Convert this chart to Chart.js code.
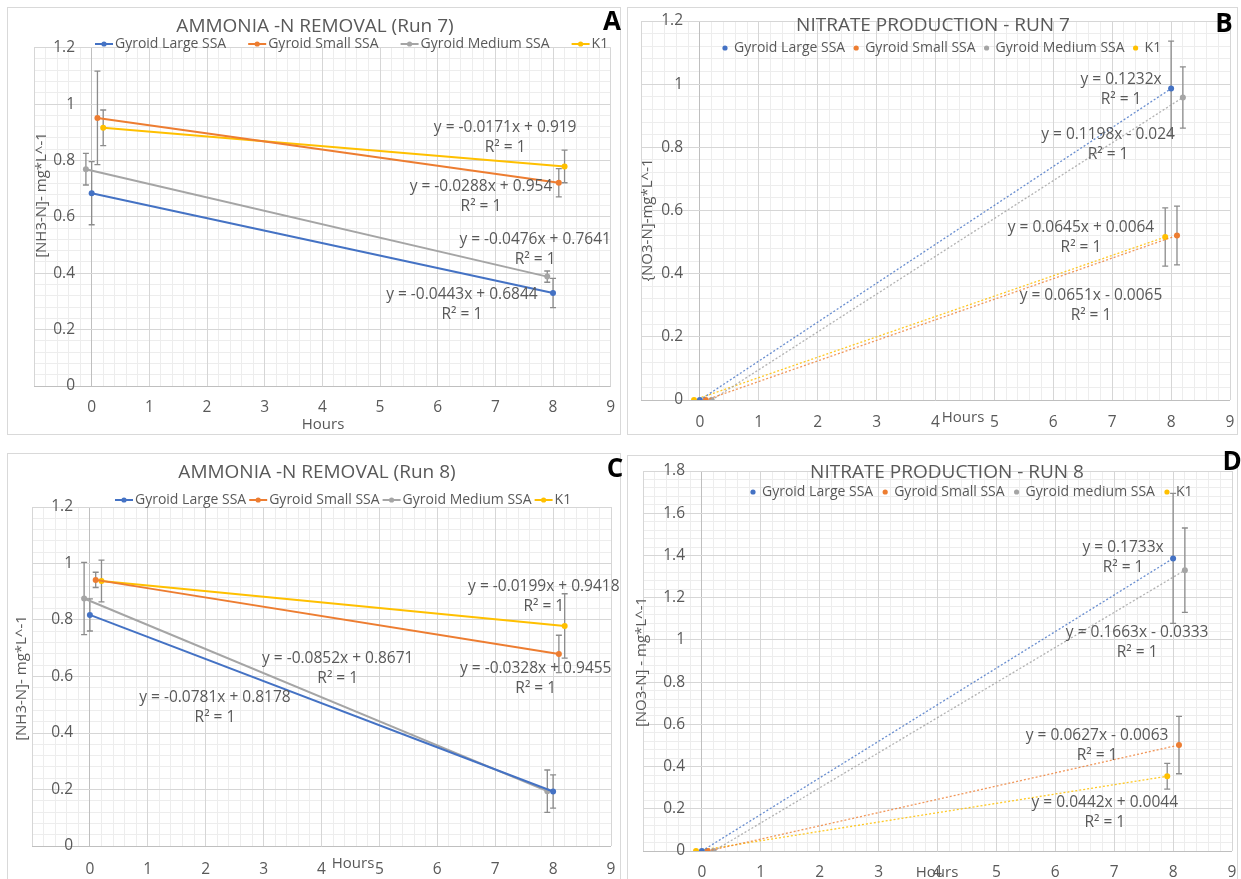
<!DOCTYPE html>
<html>
<head>
<meta charset="UTF-8">
<title>Ammonia removal and nitrate production - Run 7 / Run 8</title>
<script src="https://cdn.jsdelivr.net/npm/chart.js"></script>
<style>
    body { margin: 0; background: #fff; width: 1241px; height: 879px; overflow: hidden; position: relative; }
    .frame { position: absolute; border: 1px solid #d9d9d9; box-sizing: border-box; }
    canvas { position: absolute; }
</style>
</head>
<body>
<div class="frame" style="left:7px;top:7px;width:614px;height:428px"></div>
<div class="frame" style="left:627px;top:7px;width:611px;height:428px"></div>
<div class="frame" style="left:7px;top:453px;width:614px;height:440px"></div>
<div class="frame" style="left:627px;top:455px;width:611px;height:440px"></div>
<canvas id="chartA" width="620" height="428" style="left:7px;top:7px"></canvas>
<canvas id="chartB" width="614" height="428" style="left:627px;top:7px"></canvas>
<canvas id="chartC" width="620" height="430" style="left:7px;top:453px"></canvas>
<canvas id="chartD" width="614" height="440" style="left:627px;top:445px"></canvas>

<script>
    // series names
    var seriesLabels = ['Gyroid Large SSA', 'Gyroid Small SSA', 'Gyroid Medium SSA', 'K1'];
    var seriesLabelsRun8No3 = ['Gyroid Large SSA', 'Gyroid Small SSA', 'Gyroid medium SSA', 'K1'];

    // axis ticks
    var hourTicks = [-1, 0, 1, 2, 3, 4, 5, 6, 7, 8, 9];
    var concTicks12 = [0, 0.2, 0.4, 0.6, 0.8, 1, 1.2];
    var concTicks18 = [0, 0.2, 0.4, 0.6, 0.8, 1, 1.2, 1.4, 1.6, 1.8];

    // Run 7 - NH3-N (sampling hours are nudged so the error bars don't overlap)
    var hoursRun7Nh3 = [[0, 8], [0.1, 8.1], [-0.1, 7.9], [0.2, 8.2]];
    var nh3Run7 = [[0.684, 0.330], [0.951, 0.721], [0.769, 0.388], [0.916, 0.779]];
    var nh3Run7Err = [[0.112, 0.052], [0.166, 0.050], [0.056, 0.020], [0.063, 0.058]];
    var nh3Run7Fits = ['y = -0.0443x + 0.6844', 'y = -0.0288x + 0.954', 'y = -0.0476x + 0.7641', 'y = -0.0171x + 0.919'];

    // Run 7 - NO3-N
    var hoursRun7No3 = [[0, 8], [0.1, 8.1], [0.2, 8.2], [-0.1, 7.9]];
    var no3Run7 = [[0, 0.986], [0, 0.521], [0, 0.958], [0, 0.516]];
    var no3Run7Err = [[0, 0.150], [0, 0.093], [0, 0.097], [0, 0.092]];
    var no3Run7Fits = ['y = 0.1232x', 'y = 0.0651x - 0.0065', 'y = 0.1198x - 0.024', 'y = 0.0645x + 0.0064'];

    // Run 8 - NH3-N
    var hoursRun8Nh3 = [[0, 8], [0.1, 8.1], [-0.1, 7.9], [0.2, 8.2]];
    var nh3Run8 = [[0.818, 0.193], [0.942, 0.680], [0.876, 0.194], [0.938, 0.779]];
    var nh3Run8Err = [[0.057, 0.059], [0.027, 0.066], [0.128, 0.075], [0.074, 0.114]];
    var nh3Run8Fits = ['y = -0.0781x + 0.8178', 'y = -0.0328x + 0.9455', 'y = -0.0852x + 0.8671', 'y = -0.0199x + 0.9418'];

    // Run 8 - NO3-N
    var hoursRun8No3 = [[0, 8], [0.1, 8.1], [0.2, 8.2], [-0.1, 7.9]];
    var no3Run8 = [[0, 1.386], [0, 0.502], [0, 1.330], [0, 0.354]];
    var no3Run8Err = [[0, 0.308], [0, 0.136], [0, 0.200], [0, 0.061]];
    var no3Run8Fits = ['y = 0.1733x', 'y = 0.0627x - 0.0063', 'y = 0.1663x - 0.0333', 'y = 0.0442x + 0.0044'];

    var FONT = '"Open Sans", "Noto Sans", sans-serif';
    var TEXT = '#595959';
    var colors = ['#4472c4', '#ed7d31', '#a5a5a5', '#ffc000'];
    var dotted = ['rgba(68,114,196,0.8)', 'rgba(237,125,49,0.8)', 'rgba(165,165,165,0.85)', 'rgba(255,192,0,0.85)'];

    var panels = [
        {
            id: 'chartA', title: 'AMMONIA -N REMOVAL (Run 7)', letter: 'A', yTitle: '[NH3-N]- mg*L^-1',
            names: seriesLabels, hours: hoursRun7Nh3, values: nh3Run7, errs: nh3Run7Err, fits: nh3Run7Fits,
            yTicks: concTicks12, solid: true,
            padding: { left: 27, right: 16.3, top: 40.7, bottom: 49 },
            yLabelRight: 41, xLabelDrop: 22,
            titleAt: [308, 20], letterAt: [605, 16], yTitleAt: [34.5, 188], hoursAt: [316, 418],
            legendAt: [88, 37], legendGap: 22,
            fitAt: [[6.42, 0.326], [6.75, 0.706], [7.69, 0.518], [7.17, 0.915]]
        },
        {
            id: 'chartB', title: 'NITRATE PRODUCTION - RUN 7', letter: 'B', yTitle: '{NO3-N]-mg*L^-1',
            names: seriesLabels, hours: hoursRun7No3, values: no3Run7, errs: no3Run7Err, fits: no3Run7Fits,
            yTicks: concTicks12, solid: false,
            padding: { left: 14, right: 11, top: 14, bottom: 35 },
            yLabelRight: 42, xLabelDrop: 23,
            titleAt: [306, 19], letterAt: [597, 18], yTitleAt: [21, 213], hoursAt: [336, 411],
            legendAt: [98, 41], legendGap: 11,
            fitAt: [[7.15, 1.013], [6.64, 0.332], [6.93, 0.839], [6.47, 0.545]]
        },
        {
            id: 'chartC', title: 'AMMONIA -N REMOVAL (Run 8)', letter: 'C', yTitle: '[NH3-N]- mg*L^-1',
            names: seriesLabels, hours: hoursRun8Nh3, values: nh3Run8, errs: nh3Run8Err, fits: nh3Run8Fits,
            yTicks: concTicks12, solid: true,
            padding: { left: 25, right: 16, top: 54, bottom: 37 },
            yLabelRight: 41, xLabelDrop: 24,
            titleAt: [310, 20], letterAt: [608, 17], yTitleAt: [15, 225], hoursAt: [346, 411],
            legendAt: [108, 47], legendGap: 3,
            fitAt: [[2.16, 0.524], [7.70, 0.627], [4.28, 0.662], [7.84, 0.920]]
        },
        {
            id: 'chartD', title: 'NITRATE PRODUCTION - RUN 8', letter: 'D', yTitle: '[NO3-N] - mg*L^-1',
            names: seriesLabelsRun8No3, hours: hoursRun8No3, values: no3Run8, errs: no3Run8Err, fits: no3Run8Fits,
            yTicks: concTicks18, solid: false,
            padding: { left: 16, right: 9, top: 26, bottom: 34 },
            yLabelRight: 42, xLabelDrop: 22,
            titleAt: [320, 28], letterAt: [605, 18], yTitleAt: [15, 217], hoursAt: [310, 428],
            legendAt: [126, 47], legendGap: 12,
            fitAt: [[7.15, 1.435], [6.71, 0.545], [7.39, 1.033], [6.84, 0.227]]
        }
    ];

    // vertical error bars, drawn under the markers
    var errorBars = {
        id: 'errorBars',
        beforeDatasetsDraw: function (chart) {
            var ctx = chart.ctx, xs = chart.scales.x, ys = chart.scales.y;
            ctx.save();
            ctx.strokeStyle = '#8c8c8c';
            ctx.lineWidth = 1.3;
            chart.data.datasets.forEach(function (ds) {
                ds.data.forEach(function (p, j) {
                    var e = ds.errors[j];
                    if (!e) return;
                    var px = xs.getPixelForValue(p.x);
                    var top = ys.getPixelForValue(p.y + e);
                    var bot = ys.getPixelForValue(p.y - e);
                    ctx.beginPath();
                    ctx.moveTo(px, top); ctx.lineTo(px, bot);
                    ctx.moveTo(px - 3, top); ctx.lineTo(px + 3, top);
                    ctx.moveTo(px - 3, bot); ctx.lineTo(px + 3, bot);
                    ctx.stroke();
                });
            });
            ctx.restore();
        }
    };

    // tick labels, titles, legend, axis titles and trendline equations
    var panelText = {
        id: 'panelText',
        afterDraw: function (chart, args, o) {
            var ctx = chart.ctx, xs = chart.scales.x, ys = chart.scales.y, area = chart.chartArea;
            ctx.save();
            ctx.fillStyle = TEXT;
            ctx.textBaseline = 'middle';

            // tick labels sit inside the plot, left of the x = 0 line
            ctx.font = '15.5px ' + FONT;
            ctx.textAlign = 'right';
            ys.ticks.forEach(function (t) {
                ctx.fillText(String(t.value), area.left + o.yLabelRight, ys.getPixelForValue(t.value));
            });
            ctx.textAlign = 'center';
            xs.ticks.forEach(function (t) {
                if (t.value < 0) return;
                ctx.fillText(String(t.value), xs.getPixelForValue(t.value), area.bottom + o.xLabelDrop);
            });

            ctx.font = '19px ' + FONT;
            ctx.fillText(o.title, o.titleAt[0], o.titleAt[1]);

            ctx.font = '15px ' + FONT;
            ctx.fillText('Hours', o.hoursAt[0], o.hoursAt[1]);
            ctx.save();
            ctx.translate(o.yTitleAt[0], o.yTitleAt[1]);
            ctx.rotate(-Math.PI / 2);
            ctx.fillText(o.yTitle, 0, 0);
            ctx.restore();

            // trendline equations
            ctx.font = '15.5px ' + FONT;
            o.fits.forEach(function (txt, i) {
                var px = xs.getPixelForValue(o.fitAt[i][0]);
                var py = ys.getPixelForValue(o.fitAt[i][1]);
                ctx.fillText(txt, px, py);
                ctx.fillText('R\u00B2 = 1', px, py + 20);
            });

            // legend
            ctx.font = '14px ' + FONT;
            ctx.textAlign = 'left';
            var x = o.legendAt[0], y = o.legendAt[1];
            chart.data.datasets.forEach(function (ds, i) {
                var w = ctx.measureText(ds.label).width;
                ctx.fillStyle = colors[i];
                if (o.solid) {
                    ctx.strokeStyle = colors[i];
                    ctx.lineWidth = 2;
                    ctx.beginPath();
                    ctx.moveTo(x, y); ctx.lineTo(x + 18, y);
                    ctx.stroke();
                    ctx.beginPath(); ctx.arc(x + 9, y, 2.6, 0, Math.PI * 2); ctx.fill();
                    ctx.fillStyle = TEXT;
                    ctx.fillText(ds.label, x + 20, y);
                    x += 20 + w + o.legendGap;
                } else {
                    ctx.beginPath(); ctx.arc(x, y, 2.6, 0, Math.PI * 2); ctx.fill();
                    ctx.fillStyle = TEXT;
                    ctx.fillText(ds.label, x + 9, y);
                    x += 9 + w + o.legendGap;
                }
            });

            // panel letter
            ctx.fillStyle = '#000';
            ctx.textAlign = 'center';
            ctx.font = 'bold 26px ' + FONT;
            ctx.fillText(o.letter, o.letterAt[0], o.letterAt[1]);
            ctx.restore();
        }
    };

    function gridColor(c) {
        return c.tick && c.tick.value === 0 ? '#bfbfbf' : '#d6d6d6';
    }

    function makeChart(p) {
        var datasets = p.names.map(function (name, i) {
            return {
                label: name,
                data: p.hours[i].map(function (h, j) { return { x: h, y: p.values[i][j] }; }),
                errors: p.errs[i],
                showLine: true,
                borderColor: p.solid ? colors[i] : dotted[i],
                borderWidth: p.solid ? 2 : 1.3,
                borderDash: p.solid ? [] : [2, 2],
                pointRadius: 3,
                pointBorderWidth: 0,
                pointBackgroundColor: colors[i],
                pointBorderColor: colors[i]
            };
        });
        var yMax = p.yTicks[p.yTicks.length - 1];

        new Chart(document.getElementById(p.id), {
            type: 'scatter',
            data: { datasets: datasets },
            plugins: [errorBars, panelText],
            options: {
                responsive: false,
                animation: false,
                layout: { padding: p.padding },
                plugins: {
                    legend: { display: false },
                    tooltip: { enabled: false },
                    panelText: p
                },
                scales: {
                    x: {
                        type: 'linear', min: -1, max: 9,
                        afterFit: function (s) { s.height = 0; },
                        afterBuildTicks: function (s) { s.ticks = hourTicks.map(function (v) { return { value: v }; }); },
                        ticks: { display: false },
                        grid: { color: gridColor, drawTicks: false, z: -1 },
                        border: { display: false }
                    },
                    xMinor: {
                        type: 'linear', axis: 'x', position: 'bottom', min: -1, max: 9,
                        afterFit: function (s) { s.height = 0; },
                        ticks: { display: false, stepSize: 0.2, autoSkip: false },
                        grid: { color: '#ededed', drawTicks: false, z: -2 },
                        border: { display: false }
                    },
                    y: {
                        type: 'linear', min: 0, max: yMax,
                        afterFit: function (s) { s.width = 0; },
                        afterBuildTicks: function (s) { s.ticks = p.yTicks.map(function (v) { return { value: v }; }); },
                        ticks: { display: false },
                        grid: { color: gridColor, drawTicks: false, z: -1 },
                        border: { display: false }
                    },
                    yMinor: {
                        type: 'linear', axis: 'y', position: 'left', min: 0, max: yMax,
                        afterFit: function (s) { s.width = 0; },
                        ticks: { display: false, stepSize: 0.04, autoSkip: false },
                        grid: { color: '#ededed', drawTicks: false, z: -2 },
                        border: { display: false }
                    }
                }
            }
        });
    }

    panels.forEach(makeChart);
</script>
</body>
</html>
